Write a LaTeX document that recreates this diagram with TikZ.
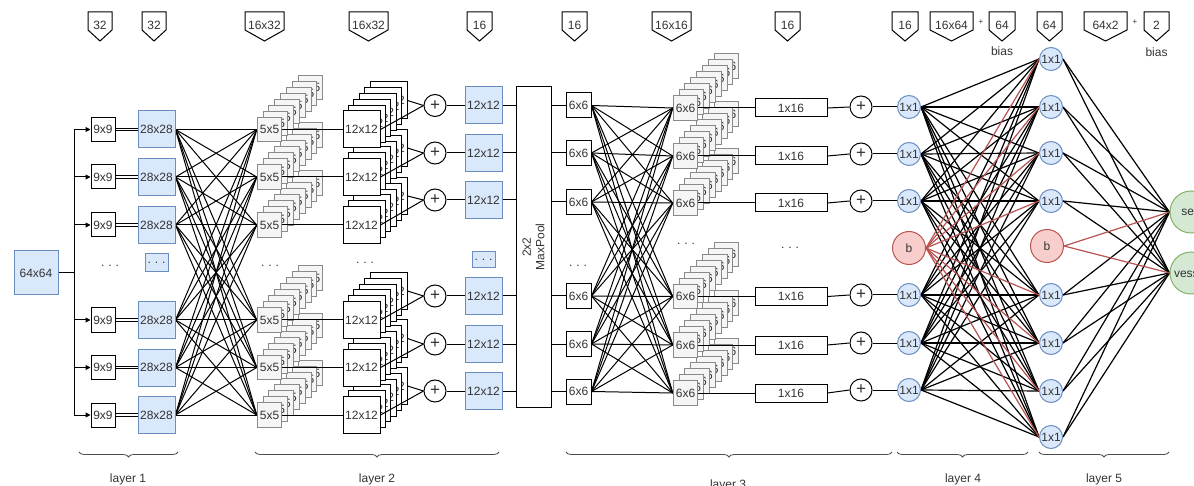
\documentclass[tikz,border=0pt]{standalone}
\usepackage{fontspec}
\setmainfont{Liberation Sans}
\usetikzlibrary{arrows.meta,decorations.pathreplacing}
\definecolor{bluef}{HTML}{DAE8FC}
\definecolor{blued}{HTML}{6C8EBF}
\definecolor{grayf}{HTML}{F5F5F5}
\definecolor{grayd}{HTML}{8A8A8A}
\definecolor{redf}{HTML}{F8CECC}
\definecolor{redd}{HTML}{B85450}
\definecolor{greenf}{HTML}{D5E8D4}
\definecolor{greend}{HTML}{82B366}
\definecolor{txt}{HTML}{333333}
\pgfdeclarelayer{bg}
\pgfsetlayers{bg,main}
\tikzset{
  lbl/.style={font=\fontsize{12}{13.5}\selectfont, text=txt, inner sep=0pt},
  sq/.style={draw=black, line width=1pt, fill=white, rectangle, minimum size=#1},
  bsq/.style={draw=blued, line width=1pt, fill=bluef, rectangle, minimum size=#1},
  gsq/.style={draw=grayd, line width=1pt, fill=grayf, rectangle, minimum size=#1},
  rbox/.style={draw=black, line width=1pt, fill=white, rectangle, minimum width=72, minimum height=18},
  sumc/.style={draw=black, line width=1pt, fill=white, circle, minimum size=22, font=\fontsize{17}{17}\selectfont},
  onec/.style={draw=blued, line width=1pt, fill=bluef, circle, minimum size=23},
  biasc/.style={draw=redd, line width=1pt, fill=redf, circle, minimum size=33},
  outc/.style={draw=greend, line width=1pt, fill=greenf, circle, minimum size=42},
  wire/.style={line width=1pt, draw=black},
  fcwire/.style={line width=1.2pt, draw=black},
  rwire/.style={line width=1.2pt, draw=redd},
  brc/.style={line width=0.8pt, draw=black!70, decorate, decoration={brace, mirror, amplitude=5pt}},
  hdrshape/.style={line width=1pt, draw=black, fill=white},
}
\newcommand\hdr[4]{%
  \draw[hdrshape] ({#1-#2/2},12) -- ({#1+#2/2},12) -- ({#1+#2/2},30) -- (#1,41) -- ({#1-#2/2},30) -- cycle;
  \node (#4) at (#1,25.5) {#3};}
\begin{document}
\begin{tikzpicture}[x=1pt,y=-1pt, every node/.style={lbl}]
\useasboundingbox (0,0) rectangle (1194,486);
\begin{pgfonlayer}{bg}
\fill[white] (0,0) rectangle (1194,486);
\end{pgfonlayer}
\clip (0,0) rectangle (1194,486);

% ---------- headers ----------
\hdr{100}{24}{32}{h1}
\hdr{154}{24}{32}{h2}
\hdr{264.5}{39}{16x32}{h3}
\hdr{368.5}{39}{16x32}{h4}
\hdr{479.5}{25}{16}{h5}
\hdr{574.5}{25}{16}{h6}
\hdr{671.5}{39}{16x16}{h7}
\hdr{787.5}{25}{16}{h8}
\hdr{905}{26}{16}{h9}
\hdr{951.5}{43}{16x64}{h10}
\node[font=\fontsize{8}{8}\selectfont] (pl1) at (981,22) {+};
\hdr{1002}{26}{64}{h11}
\node (bias1) at (1002,51) {bias};
\hdr{1049.5}{25}{64}{h12}
\hdr{1105.5}{43}{64x2}{h13}
\node[font=\fontsize{8}{8}\selectfont] (pl2) at (1135,22) {+};
\hdr{1156.5}{25}{2}{h14}
\node (bias2) at (1156.5,52) {bias};

% ---------- layer 1 ----------
\node[bsq=44] (in) at (36,273) {64x64};
\coordinate (vtop) at (74,129.5);
\coordinate (vbot) at (74,415);
\coordinate (vmid) at (74,273);
\draw[wire] (vtop) -- (vbot);
\draw[wire] (in.east) -- (vmid);
\foreach \i/\y in {1/129.5,2/177,3/225,4/320,5/367.5,6/415}{
  \node[sq=24] (k\i) at (103,\y) {9x9};
  \node[bsq=37] (f\i) at (156.5,\y) {28x28};
  \coordinate (a\i) at (74,\y);
  \draw[wire,-{Triangle[length=5pt,width=5pt]}] (a\i) -- (k\i.west);
  \draw[line width=0.8pt, double, double distance=1.6pt] (k\i.east) -- (f\i.west);
}
\node (d1) at (110,266) {.\,\,.\,\,.};
\node[bsq=18, minimum width=23] (fd) at (156.5,263) {.\,\,.\,\,.};

% ---------- layer 2 ----------
\foreach \i/\y in {6/415,5/367.5,4/320,3/225,2/177,1/129.5}{
  \foreach \k in {7,6,...,0}{
    \node[gsq=24.5] (s\i-\k) at ({269.5+5.86*\k},{\y-6*\k}) {5x5};
  }
}
\foreach \i/\y in {6/415,5/367.5,4/320,3/225,2/177,1/129.5}{
  \foreach \k in {5,4,...,0}{
    \node[sq=37] (t\i-\k) at ({361.5+5.4*\k},{\y-5.8*\k}) {12x12};
  }
}
\node (d2) at (270,266) {.\,\,.\,\,.};
\node (d3) at (365,263) {.\,\,.\,\,.};
\foreach \i/\y in {1/105.5,2/153,3/200,4/296,5/344,6/391}{
  \node[sumc] (p\i) at (435,\y) {+};
  \node[bsq=37] (bb\i) at (483.5,\y) {12x12};
}
\node[bsq=16, minimum width=23] (bd) at (483.5,260) {.\,\,.\,\,.};
\foreach \i in {1,...,6}{
  \draw[wire] (s\i-0.east) -- (t\i-0.west);
  \draw[wire] (t\i-5.east) -- (p\i.west);
  \draw[wire] (t\i-0.east) -- (p\i.west);
  \draw[wire] (p\i.east) -- (bb\i.west);
}

% ---------- maxpool ----------
\node[draw=black, line width=1pt, fill=white, minimum width=35, minimum height=320] (mp) at (533.5,247) {};
\node[rotate=90, align=center] (mptxt) at (mp.center) {2x2\\MaxPool};
\foreach \i in {1,...,6}{
  \draw[wire] (bb\i.east) -- (bb\i.east -| mp.west);
}

% ---------- layer 3 ----------
\foreach \i/\y in {1/105.5,2/153,3/202,4/296,5/344,6/391.5}{
  \node[sq=25] (c\i) at (578.5,\y) {6x6};
  \draw[wire] (c\i.west -| mp.east) -- (c\i.west);
}
\node (d4) at (578,266) {.\,\,.\,\,.};
\foreach \i/\y in {6/393,5/345,4/296.5,3/203,2/156,1/108}{
  \foreach \k in {7,6,...,0}{
    \node[gsq=24.5] (g\i-\k) at ({685.5+5.86*\k},{\y-6*\k}) {6x6};
  }
}
\node (d5) at (686,244) {.\,\,.\,\,.};
\node (d6) at (790,248) {.\,\,.\,\,.};
\foreach \i/\y/\z in {1/108/107,2/156/154,3/203/201,4/296.5/295,5/345/343,6/393/390}{
  \node[rbox] (x\i) at (791,\y) {1x16};
  \node[sumc] (q\i) at (861,\z) {+};
  \node[onec] (o\i) at (909,\z) {1x1};
  \draw[wire] (g\i-0.east) -- (x\i.west);
  \draw[wire] (x\i.east) -- (q\i.west);
  \draw[wire] (q\i.east) -- (o\i.west);
}
\node[biasc] (b1) at (909,248) {b};

% ---------- layer 4 / 5 ----------
\foreach \j/\y in {1/59,2/107,3/153,4/201,5/295,6/343,7/391,8/437}{
  \node[onec] (u\j) at (1051,\y) {1x1};
}
\node[biasc] (b2) at (1047,246) {b};
\node[outc] (sea) at (1191,212) {sea};
\node[outc] (ves) at (1191,273) {vessel};

\begin{pgfonlayer}{bg}
\foreach \i in {1,...,6}{
  \foreach \j in {1,...,6}{
    \draw[wire] (f\i.east) -- (s\j-0.west);
    \draw[wire] (c\i.east) -- (g\j-0.west);
  }
}
\foreach \i in {1,...,6}{
  \foreach \j in {1,...,8}{
    \draw[fcwire] (o\i.east) -- (u\j.west);
  }
}
\foreach \j in {1,...,8}{
  \draw[rwire] (b1.east) -- (u\j.west);
  \draw[fcwire] (u\j.east) -- (sea.west);
  \draw[fcwire] (u\j.east) -- (ves.west);
}
\draw[rwire] (b2.east) -- (sea.west);
\draw[rwire] (b2.east) -- (ves.west);
\end{pgfonlayer}

% ---------- braces ----------
\coordinate (l1a) at (79,452);  \coordinate (l1b) at (178,452);
\coordinate (l2a) at (255,452); \coordinate (l2b) at (499,452);
\coordinate (l3a) at (566,452); \coordinate (l3b) at (892,452);
\coordinate (l4a) at (897,452); \coordinate (l4b) at (1028,452);
\coordinate (l5a) at (1039,452); \coordinate (l5b) at (1169,452);
\draw[brc] (l1a) -- (l1b);
\draw[brc] (l2a) -- (l2b);
\draw[brc] (l3a) -- (l3b);
\draw[brc] (l4a) -- (l4b);
\draw[brc] (l5a) -- (l5b);
\node (lay1) at (128,479) {layer 1};
\node (lay2) at (377,479) {layer 2};
\node (lay3) at (728,485) {layer 3};
\node (lay4) at (963,479) {layer 4};
\node (lay5) at (1104,479) {layer 5};
\end{tikzpicture}
\end{document}
